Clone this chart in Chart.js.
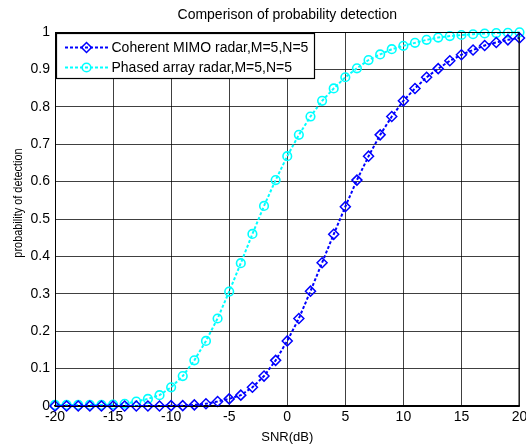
<!DOCTYPE html>
<html>
<head>
<meta charset="utf-8">
<script src="https://cdn.jsdelivr.net/npm/chart.js@4"></script>
<style>
  html, body { margin: 0; padding: 0; background: #fff; }
  canvas { display: block; }
</style>
</head>
<body>
<canvas id="pdChart" width="526" height="445"></canvas>
<script>
// SNR points (dB)
const snrDb = [-20, -19, -18, -17, -16, -15, -14, -13, -12, -11, -10, -9, -8, -7, -6, -5, -4, -3, -2, -1,
               0, 1, 2, 3, 4, 5, 6, 7, 8, 9, 10, 11, 12, 13, 14, 15, 16, 17, 18, 19, 20];

// probability of detection
const mimoPd = [0.000, 0.000, 0.000, 0.000, 0.000, 0.000, 0.000, 0.000, 0.000, 0.000,
                0.001, 0.001, 0.003, 0.006, 0.012, 0.019, 0.029, 0.050, 0.080, 0.122,
                0.174, 0.234, 0.307, 0.383, 0.459, 0.533, 0.604, 0.668, 0.725, 0.774,
                0.816, 0.849, 0.879, 0.902, 0.923, 0.939, 0.952, 0.964, 0.972, 0.979, 0.984];
const phasedPd = [0.003, 0.003, 0.003, 0.003, 0.003, 0.004, 0.006, 0.012, 0.019, 0.029,
                  0.050, 0.080, 0.122, 0.174, 0.234, 0.306, 0.382, 0.460, 0.535, 0.604,
                  0.668, 0.725, 0.774, 0.816, 0.849, 0.879, 0.903, 0.925, 0.940, 0.954,
                  0.963, 0.971, 0.979, 0.985, 0.989, 0.992, 0.994, 0.996, 0.997, 0.998, 0.999];

const seriesNames = ["Coherent MIMO radar,M=5,N=5", "Phased array radar,M=5,N=5"];
const chartTitle = "Comperison of probability detection";
const yTitle = "probability of detection";
const xTicks = [-20, -15, -10, -5, 0, 5, 10, 15, 20];
const yTicks = [0, 0.1, 0.2, 0.3, 0.4, 0.5, 0.6, 0.7, 0.8, 0.9, 1];

const FONT = "'Liberation Sans', Arial, sans-serif";

function toPoints(ys) {
    return snrDb.map((x, i) => ({ x: x, y: ys[i] }));
}

// marker drawing for the legend box
function drawMarker(ctx, style, x, y, r) {
    ctx.beginPath();
    if (style === "rectRot") {
        ctx.moveTo(x, y - r);
        ctx.lineTo(x + r, y);
        ctx.lineTo(x, y + r);
        ctx.lineTo(x - r, y);
        ctx.closePath();
    } else {
        ctx.arc(x, y, r, 0, Math.PI * 2);
    }
    ctx.stroke();
}

// title, y label, frame and matlab-like legend
const matlabLook = {
    id: "matlabLook",
    afterDraw(chart) {
        const ctx = chart.ctx;
        const a = chart.chartArea;
        ctx.save();

        // frame
        ctx.strokeStyle = "#000";
        ctx.lineWidth = 1;
        ctx.setLineDash([]);
        ctx.strokeRect(a.left + 0.5, a.top + 0.5, a.right - a.left - 1, a.bottom - a.top);

        // title
        ctx.fillStyle = "#000";
        ctx.font = "14px " + FONT;
        ctx.textAlign = "center";
        ctx.textBaseline = "middle";
        ctx.fillText(chartTitle, (a.left + a.right) / 2, 15);

        // y axis title (a bit condensed, like the original)
        ctx.save();
        ctx.translate(18, 203);
        ctx.rotate(-Math.PI / 2);
        ctx.scale(0.84, 1);
        ctx.font = "13px " + FONT;
        ctx.fillText(yTitle, 0, 0);
        ctx.restore();

        // legend box
        const bx = 56.5, by = 33.5, bw = 258, bh = 45;
        ctx.fillStyle = "#fff";
        ctx.fillRect(bx, by, bw, bh);
        ctx.strokeStyle = "#000";
        ctx.lineWidth = 1.2;
        ctx.strokeRect(bx, by, bw, bh);

        chart.data.datasets.forEach((ds, i) => {
            const ly = 47.5 + i * 20;
            ctx.strokeStyle = ds.borderColor;
            ctx.lineWidth = 2;
            ctx.setLineDash(ds.borderDash);
            ctx.beginPath();
            ctx.moveTo(65, ly);
            ctx.lineTo(108, ly);
            ctx.stroke();
            ctx.setLineDash([]);
            ctx.lineWidth = ds.pointBorderWidth;
            drawMarker(ctx, ds.pointStyle, 86.5, ly, ds.pointRadius);
            ctx.fillStyle = "#000";
            ctx.font = "14px " + FONT;
            ctx.textAlign = "left";
            ctx.textBaseline = "middle";
            ctx.fillText(ds.label, 111.5, ly + 1);
        });
        ctx.restore();
    }
};

const ctxPd = document.getElementById("pdChart");
new Chart(ctxPd, {
    type: "line",
    data: {
        datasets: [{
            label: seriesNames[0],
            data: toPoints(mimoPd),
            borderColor: "#0000ff",
            borderWidth: 2,
            borderDash: [3, 2],
            pointStyle: "rectRot",
            pointRadius: 5,
            pointBorderWidth: 1.5,
            pointBorderColor: "#0000ff",
            pointBackgroundColor: "rgba(0,0,0,0)",
            fill: false,
            tension: 0,
            clip: false
        }, {
            label: seriesNames[1],
            data: toPoints(phasedPd),
            borderColor: "#00ffff",
            borderWidth: 2,
            borderDash: [3, 2],
            pointStyle: "circle",
            pointRadius: 4.3,
            pointBorderWidth: 1.6,
            pointBorderColor: "#00ffff",
            pointBackgroundColor: "rgba(0,0,0,0)",
            fill: false,
            tension: 0,
            clip: false
        }]
    },
    options: {
        responsive: false,
        animation: false,
        layout: { padding: { top: 32, right: 6, left: 0, bottom: 0 } },
        plugins: {
            legend: { display: false },
            title: { display: false },
            tooltip: { enabled: false }
        },
        scales: {
            x: {
                type: "linear",
                min: -20,
                max: 20,
                afterBuildTicks: s => { s.ticks = xTicks.map(v => ({ value: v })); },
                afterFit: s => { s.height = 39; s.paddingLeft = 0; s.paddingRight = 0; },
                ticks: { color: "#000", font: { family: FONT, size: 14 }, padding: 3, maxRotation: 0 },
                grid: { color: "rgba(0,0,0,0.75)", drawTicks: false },
                border: { color: "#000", width: 1.5 },
                title: { display: true, text: "SNR(dB)", color: "#000", font: { family: FONT, size: 13 }, padding: { top: 0, bottom: 0 } }
            },
            y: {
                min: 0,
                max: 1,
                afterBuildTicks: s => { s.ticks = yTicks.map(v => ({ value: v })); },
                afterFit: s => { s.width = 55; s.paddingTop = 0; s.paddingBottom = 0; },
                ticks: { color: "#000", font: { family: FONT, size: 14 }, padding: 5,
                         callback: v => String(Math.round(v * 10) / 10) },
                grid: { color: "rgba(0,0,0,0.75)", drawTicks: false },
                border: { color: "#000", width: 1 },
                title: { display: false }
            }
        }
    },
    plugins: [matlabLook]
});
</script>
</body>
</html>
